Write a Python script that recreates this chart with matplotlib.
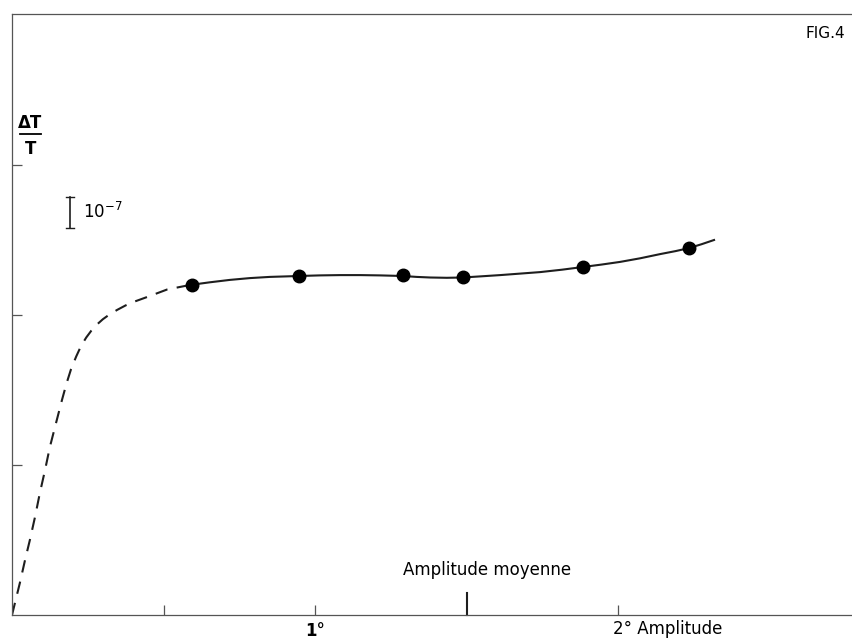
import matplotlib
matplotlib.use("Agg")
import matplotlib.pyplot as plt

# Measured points: amplitude (degrees) vs dT/T (units of 1e-7)
amp_pts = [0.594, 0.947, 1.290, 1.488, 1.884, 2.234]
dtt_pts = [11.0, 11.3, 11.33, 11.27, 11.6, 12.23]

# Hand-drawn curve through the points (solid part)
curve_x = [0.587, 0.653, 0.719, 0.785, 0.851, 0.947, 1.015, 1.083, 1.150,
           1.215, 1.290, 1.335, 1.380, 1.435, 1.488, 1.550, 1.611, 1.677,
           1.743, 1.815, 1.884, 1.945, 2.007, 2.073, 2.139, 2.190, 2.234,
           2.276, 2.317]
curve_y = [11.0, 11.09, 11.17, 11.23, 11.27, 11.3, 11.32, 11.33, 11.33,
           11.32, 11.3, 11.27, 11.25, 11.24, 11.25, 11.29, 11.33, 11.38,
           11.43, 11.51, 11.6, 11.68, 11.77, 11.89, 12.03, 12.13, 12.23,
           12.36, 12.5]

# Extrapolated part towards the origin (dashed)
dash_x = [0.0, 0.026, 0.043, 0.059, 0.076, 0.092, 0.109, 0.125, 0.142,
          0.165, 0.180, 0.195, 0.212, 0.228, 0.245, 0.262, 0.280, 0.300,
          0.322, 0.347, 0.375, 0.405, 0.446, 0.512, 0.587]
dash_y = [0.0, 1.07, 1.83, 2.5, 3.27, 4.07, 4.83, 5.6, 6.27,
          7.17, 7.72, 8.2, 8.62, 8.97, 9.25, 9.48, 9.68, 9.86,
          10.02, 10.17, 10.32, 10.45, 10.6, 10.85, 11.0]

x_ticks = [0.5, 1.0, 2.0]
x_tick_labels = ["", "1°", ""]
y_ticks = [5, 10, 15]
moyenne = 1.5

fig = plt.figure(figsize=(8.52, 6.4), dpi=100)
ax = fig.add_axes([12 / 852, 25 / 640, 840 / 852, 601 / 640])
ax.set_xlim(0, 840 / 303)
ax.set_ylim(0, 601 / 30)

ink = "#1e1e1e"
ax.plot(dash_x, dash_y, color=ink, lw=1.5, ls=(0, (6, 4.5)))
ax.plot(curve_x, curve_y, color=ink, lw=1.5)
ax.plot(amp_pts, dtt_pts, "o", color="black", markersize=9)

for side in ["left", "bottom", "top"]:
    ax.spines[side].set_color("#555555")
    ax.spines[side].set_linewidth(0.9)
ax.spines["right"].set_visible(False)

ax.set_xticks(x_ticks)
ax.set_xticklabels(x_tick_labels, fontsize=12, fontweight="bold")
ax.set_yticks(y_ticks)
ax.set_yticklabels([])
ax.tick_params(axis="both", direction="in", length=7, width=0.9, color="#555555")
ax.tick_params(axis="x", pad=5)

# longer tick for the mean amplitude
ax.plot([moyenne, moyenne], [0, 0.75], color=ink, lw=1.5, clip_on=False)
ax.text(moyenne - 0.21, 1.2, "Amplitude moyenne", fontsize=12, ha="left", va="bottom")

ax.text(2.0 - 0.015, -0.17, "2° Amplitude", fontsize=12, ha="left", va="top")

# axis label dT/T
ax.text(0.06, 16.25, "ΔT", fontsize=12, ha="center", va="baseline",
        fontweight="bold")
ax.plot([0.025, 0.095], [16.03, 16.03], color="black", lw=1.3)
ax.text(0.06, 15.83, "T", fontsize=12, ha="center", va="top", fontweight="bold")

# scale bar 1e-7
ax.plot([0.191, 0.191], [12.9, 13.93], color=ink, lw=1.2)
ax.plot([0.178, 0.204], [12.9, 12.9], color=ink, lw=1.0)
ax.plot([0.178, 0.204], [13.93, 13.93], color=ink, lw=1.0)
ax.text(0.235, 13.1, r"10$^{-7}$", fontsize=12, ha="left", va="bottom")

fig.text(0.992, 0.948, "FIG.4", fontsize=11, ha="right", va="center")

fig.savefig("out.png", dpi=100)
